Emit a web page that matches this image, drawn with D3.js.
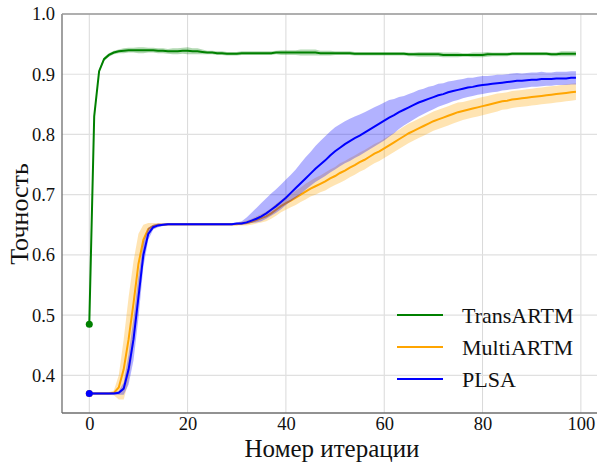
<!DOCTYPE html>
<html><head><meta charset="utf-8">
<script src="https://cdn.jsdelivr.net/npm/d3@7"></script>
<style>
html,body{margin:0;padding:0;background:#fff;overflow:hidden;}
svg{display:block;}
svg text{font-family:"Liberation Serif","Times New Roman","DejaVu Serif",serif;}
</style></head>
<body><svg id="c" width="597" height="462"></svg>
<script>
const seriesNames = ["TransARTM", "MultiARTM", "PLSA"];
const seriesColors = ["#008000", "#ffa500", "#0000ff"];
const xTicks = [0, 20, 40, 60, 80, 100];
const yTicks = [0.4, 0.5, 0.6, 0.7, 0.8, 0.9, 1.0];

const transMean = [
0.485,0.830,0.905,0.925,0.932,0.936,0.938,0.939,0.940,0.940,
0.940,0.940,0.940,0.940,0.939,0.939,0.938,0.938,0.938,0.939,
0.939,0.938,0.938,0.937,0.936,0.936,0.935,0.935,0.934,0.934,
0.934,0.935,0.935,0.935,0.935,0.935,0.935,0.935,0.936,0.936,
0.936,0.936,0.936,0.936,0.936,0.936,0.936,0.935,0.935,0.935,
0.935,0.935,0.935,0.935,0.934,0.934,0.934,0.934,0.934,0.934,
0.934,0.934,0.934,0.934,0.934,0.933,0.933,0.933,0.933,0.933,
0.933,0.933,0.932,0.932,0.932,0.932,0.932,0.932,0.932,0.932,
0.932,0.933,0.933,0.933,0.933,0.933,0.934,0.934,0.934,0.934,
0.934,0.934,0.934,0.934,0.933,0.933,0.934,0.934,0.934,0.934];
const transStd = [
0.000,0.003,0.003,0.003,0.003,0.003,0.003,0.004,0.004,0.004,
0.005,0.005,0.004,0.004,0.004,0.004,0.004,0.005,0.005,0.005,
0.006,0.005,0.005,0.004,0.003,0.003,0.003,0.003,0.003,0.003,
0.003,0.003,0.003,0.003,0.003,0.003,0.003,0.003,0.003,0.004,
0.004,0.004,0.004,0.005,0.005,0.005,0.005,0.004,0.004,0.004,
0.003,0.003,0.003,0.003,0.003,0.003,0.003,0.003,0.003,0.003,
0.003,0.003,0.003,0.003,0.003,0.003,0.003,0.004,0.004,0.004,
0.004,0.004,0.004,0.004,0.004,0.004,0.003,0.003,0.004,0.004,
0.004,0.004,0.003,0.003,0.003,0.003,0.003,0.003,0.003,0.003,
0.003,0.003,0.003,0.003,0.003,0.003,0.004,0.004,0.004,0.004];

const multiMean = [
0.370,0.370,0.370,0.370,0.370,0.371,0.380,0.410,0.460,0.520,
0.585,0.625,0.643,0.648,0.650,0.650,0.651,0.651,0.651,0.651,
0.651,0.651,0.651,0.651,0.651,0.651,0.651,0.651,0.651,0.651,
0.651,0.652,0.653,0.655,0.658,0.661,0.664,0.669,0.675,0.681,
0.686,0.690,0.695,0.700,0.705,0.710,0.714,0.718,0.722,0.727,
0.731,0.736,0.740,0.745,0.749,0.754,0.758,0.763,0.768,0.772,
0.777,0.782,0.787,0.792,0.797,0.802,0.806,0.810,0.814,0.818,
0.822,0.825,0.828,0.831,0.834,0.837,0.839,0.841,0.843,0.845,
0.847,0.849,0.851,0.853,0.855,0.856,0.858,0.859,0.860,0.861,
0.862,0.863,0.864,0.865,0.866,0.867,0.868,0.869,0.870,0.871];
const multiStd = [
0.002,0.002,0.002,0.002,0.002,0.004,0.020,0.050,0.070,0.070,
0.050,0.025,0.010,0.005,0.003,0.002,0.002,0.002,0.002,0.002,
0.002,0.002,0.002,0.002,0.002,0.002,0.002,0.002,0.002,0.002,
0.002,0.003,0.004,0.005,0.006,0.007,0.008,0.009,0.010,0.010,
0.011,0.011,0.012,0.012,0.013,0.013,0.014,0.014,0.015,0.015,
0.015,0.016,0.016,0.016,0.016,0.016,0.016,0.016,0.016,0.016,
0.016,0.016,0.016,0.016,0.016,0.016,0.016,0.016,0.016,0.016,
0.016,0.016,0.016,0.016,0.016,0.016,0.015,0.015,0.015,0.015,
0.015,0.015,0.015,0.015,0.014,0.014,0.014,0.014,0.014,0.014,
0.014,0.014,0.014,0.014,0.014,0.014,0.014,0.014,0.014,0.014];

const plsaMean = [
0.370,0.370,0.370,0.370,0.370,0.370,0.371,0.378,0.410,0.460,
0.530,0.600,0.635,0.646,0.649,0.650,0.651,0.651,0.651,0.651,
0.651,0.651,0.651,0.651,0.651,0.651,0.651,0.651,0.651,0.651,
0.652,0.652,0.654,0.657,0.660,0.664,0.669,0.675,0.681,0.688,
0.695,0.703,0.711,0.719,0.727,0.735,0.743,0.750,0.757,0.765,
0.772,0.778,0.784,0.789,0.794,0.798,0.803,0.808,0.813,0.818,
0.823,0.828,0.832,0.837,0.841,0.845,0.849,0.853,0.856,0.859,
0.862,0.865,0.867,0.870,0.872,0.874,0.876,0.878,0.879,0.881,
0.882,0.883,0.884,0.885,0.886,0.887,0.888,0.889,0.889,0.890,
0.891,0.891,0.892,0.892,0.892,0.893,0.893,0.893,0.894,0.894];
const plsaUp = [
0.002,0.002,0.002,0.002,0.002,0.002,0.003,0.010,0.025,0.035,
0.035,0.020,0.010,0.004,0.003,0.002,0.002,0.002,0.002,0.002,
0.002,0.002,0.002,0.002,0.002,0.002,0.002,0.002,0.002,0.002,
0.002,0.004,0.008,0.013,0.018,0.022,0.025,0.027,0.028,0.029,
0.030,0.030,0.031,0.033,0.035,0.036,0.038,0.039,0.040,0.040,
0.040,0.039,0.038,0.037,0.036,0.035,0.034,0.033,0.032,0.031,
0.030,0.029,0.027,0.025,0.023,0.022,0.021,0.021,0.020,0.020,
0.019,0.019,0.018,0.018,0.017,0.017,0.016,0.016,0.015,0.015,
0.015,0.014,0.014,0.014,0.013,0.013,0.013,0.013,0.012,0.012,
0.012,0.012,0.012,0.011,0.011,0.011,0.011,0.011,0.011,0.011];
const plsaLow = [
0.002,0.002,0.002,0.002,0.002,0.002,0.003,0.010,0.025,0.035,
0.035,0.020,0.010,0.004,0.003,0.002,0.002,0.002,0.002,0.002,
0.002,0.002,0.002,0.002,0.002,0.002,0.002,0.002,0.002,0.002,
0.002,0.002,0.003,0.004,0.006,0.008,0.009,0.010,0.011,0.012,
0.012,0.014,0.016,0.018,0.019,0.020,0.022,0.024,0.026,0.028,
0.030,0.031,0.032,0.033,0.033,0.033,0.033,0.033,0.033,0.033,
0.033,0.032,0.030,0.028,0.026,0.025,0.024,0.023,0.022,0.021,
0.020,0.019,0.018,0.018,0.017,0.017,0.016,0.016,0.015,0.015,
0.015,0.014,0.014,0.014,0.013,0.013,0.013,0.013,0.012,0.012,
0.012,0.012,0.012,0.011,0.011,0.011,0.011,0.011,0.011,0.011];

const series = [
  {name: seriesNames[0], color: seriesColors[0], mean: transMean, up: transStd, low: transStd},
  {name: seriesNames[1], color: seriesColors[1], mean: multiMean, up: multiStd, low: multiStd},
  {name: seriesNames[2], color: seriesColors[2], mean: plsaMean, up: plsaUp, low: plsaLow}
];

const FONT = "'Liberation Serif', 'Times New Roman', 'DejaVu Serif', serif";
const svg = d3.select("#c");
const L = 62, R = 603, T = 14, B = 413;
const x = d3.scaleLinear().domain([-5.55, 104.5]).range([L, R]);
const y = d3.scaleLinear().domain([0.3375, 1.0]).range([B, T]);

// grid
const g = svg.append("g");
g.selectAll(".gx").data(xTicks).enter().append("line")
  .attr("x1", d => x(d)).attr("x2", d => x(d)).attr("y1", T).attr("y2", B)
  .attr("stroke", "#d9d9d9").attr("stroke-width", 1);
g.selectAll(".gy").data(yTicks).enter().append("line")
  .attr("x1", L).attr("x2", R).attr("y1", d => y(d)).attr("y2", d => y(d))
  .attr("stroke", "#e0e0e0").attr("stroke-width", 1.2);

const area = d3.area()
  .x((d, i) => x(i))
  .y0(d => y(d[0] - d[2]))
  .y1(d => y(d[0] + d[1]));
const line = d3.line().x((d, i) => x(i)).y(d => y(d));

series.forEach(s => {
  const pts = s.mean.map((m, i) => [m, s.up[i], s.low[i]]);
  svg.append("path").datum(s.mean).attr("d", line)
    .attr("fill", "none").attr("stroke", s.color).attr("stroke-width", 2);
  svg.append("circle").attr("cx", x(0)).attr("cy", y(s.mean[0])).attr("r", 3.5)
    .attr("fill", s.color);
  svg.append("path").datum(pts).attr("d", area)
    .attr("fill", s.color).attr("fill-opacity", 0.3).attr("stroke", "none");
});

// spines
svg.append("line").attr("x1", L).attr("x2", L).attr("y1", T).attr("y2", B)
  .attr("stroke", "#6e6e6e").attr("stroke-width", 1.3);
svg.append("line").attr("x1", L).attr("x2", R).attr("y1", B).attr("y2", B)
  .attr("stroke", "#6e6e6e").attr("stroke-width", 1.3);
svg.append("line").attr("x1", L).attr("x2", R).attr("y1", T).attr("y2", T)
  .attr("stroke", "#9a9a9a").attr("stroke-width", 1.3);

// axes
const xAxis = d3.axisBottom(x).tickValues(xTicks).tickSize(0).tickPadding(4).tickFormat(d3.format("d"));
const xa = svg.append("g").attr("transform", `translate(0,${B})`).call(xAxis)
  .attr("font-family", FONT).attr("font-size", 18.5);
xa.select(".domain").remove();
xa.selectAll("text").attr("font-size", 18.5).attr("fill", "#111").style("font-family", FONT);

const yAxis = d3.axisLeft(y).tickValues(yTicks).tickSize(0).tickPadding(7).tickFormat(d3.format(".1f"));
const ya = svg.append("g").attr("transform", `translate(${L},0)`).call(yAxis)
  .attr("font-family", FONT).attr("font-size", 18.5);
ya.select(".domain").remove();
ya.selectAll("text").attr("font-size", 18.5).attr("fill", "#111").style("font-family", FONT);

svg.append("text").attr("x", 332).attr("y", 456.5).attr("text-anchor", "middle")
  .style("font-family", FONT).attr("font-size", 25).attr("fill", "#111").text("Номер итерации");
svg.append("text").attr("transform", "translate(28,214) rotate(-90)")
  .style("font-family", FONT).attr("text-anchor", "middle").attr("font-size", 26).attr("fill", "#111").text("Точность");

// legend
const lg = svg.append("g");
series.forEach((s, i) => {
  const yy = 315 + i * 32;
  lg.append("line").attr("x1", 397).attr("x2", 443).attr("y1", yy).attr("y2", yy)
    .attr("stroke", s.color).attr("stroke-width", 2);
  lg.append("text").attr("x", 462).attr("y", yy + 7.5).attr("font-size", 22)
    .style("font-family", FONT).attr("fill", "#111").text(s.name);
});
</script></body></html>
